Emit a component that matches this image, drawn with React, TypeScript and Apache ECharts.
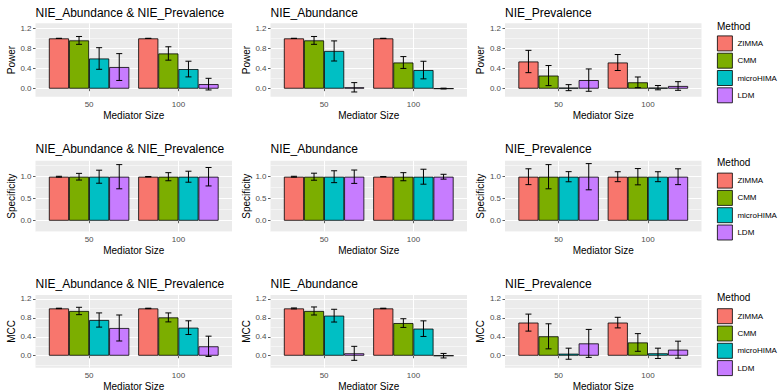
import React, { useEffect, useRef } from "react";
import * as echarts from "echarts";

const methods = ["ZIMMA", "CMM", "microHIMA", "LDM"];
const methodColors = ["#F8766D", "#7CAE00", "#00BFC4", "#C77CFF"];
const sizeLabels = ["50", "100"];
const sizePositions = [1, 2];
const panelTitles = ["NIE_Abundance & NIE_Prevalence", "NIE_Abundance", "NIE_Prevalence"];
const metricNames = ["Power", "Specificity", "MCC"];
const metricTicks = [[0, 0.4, 0.8, 1.2], [0, 0.5, 1.0], [0, 0.4, 0.8, 1.2]];
const metricMinorTicks = [[-0.2, 0.2, 0.6, 1.0], [-0.25, 0.25, 0.75, 1.25], [-0.2, 0.2, 0.6, 1.0]];
const metricMin = [-0.16, -0.25, -0.254];
const metricMax = [1.3, 1.364, 1.284];

// values: rows = methods (ZIMMA, CMM, microHIMA, LDM), columns = mediator size (50, 100)
const powerBothMean = [[1.0, 1.0], [0.96, 0.7], [0.6, 0.39], [0.43, 0.09]];
const powerBothSd = [[0.0, 0.0], [0.078, 0.133], [0.215, 0.156], [0.267, 0.116]];
const powerAbunMean = [[1.0, 1.0], [0.96, 0.52], [0.75, 0.37], [0.027, 0.002]];
const powerAbunSd = [[0.0, 0.0], [0.078, 0.118], [0.2, 0.175], [0.093, 0.008]];
const powerPrevMean = [[0.54, 0.52], [0.26, 0.126], [0.02, 0.02], [0.17, 0.053]];
const powerPrevSd = [[0.222, 0.159], [0.2, 0.106], [0.06, 0.043], [0.222, 0.086]];

const specBothMean = [[1.0, 1.0], [1.0, 1.0], [1.0, 1.0], [1.0, 1.0]];
const specBothSd = [[0.01, 0.005], [0.076, 0.092], [0.148, 0.125], [0.275, 0.21]];
const specAbunMean = [[1.0, 1.0], [1.0, 1.0], [1.0, 1.0], [1.0, 1.0]];
const specAbunSd = [[0.01, 0.005], [0.08, 0.092], [0.135, 0.17], [0.152, 0.055]];
const specPrevMean = [[1.0, 1.0], [1.0, 1.0], [1.0, 1.0], [1.0, 1.0]];
const specPrevSd = [[0.18, 0.113], [0.275, 0.185], [0.115, 0.113], [0.298, 0.18]];

const mccBothMean = [[1.0, 1.0], [0.946, 0.81], [0.755, 0.593], [0.586, 0.198]];
const mccBothSd = [[0.005, 0.005], [0.078, 0.095], [0.15, 0.145], [0.275, 0.215]];
const mccAbunMean = [[1.0, 1.0], [0.946, 0.69], [0.847, 0.572], [0.05, 0.0]];
const mccAbunSd = [[0.01, 0.005], [0.085, 0.092], [0.135, 0.165], [0.148, 0.048]];
const mccPrevMean = [[0.7, 0.7], [0.41, 0.28], [0.042, 0.05], [0.26, 0.127]];
const mccPrevSd = [[0.18, 0.112], [0.265, 0.187], [0.117, 0.109], [0.296, 0.18]];

const panelMeans = [
  [powerBothMean, powerAbunMean, powerPrevMean],
  [specBothMean, specAbunMean, specPrevMean],
  [mccBothMean, mccAbunMean, mccPrevMean],
];
const panelSds = [
  [powerBothSd, powerAbunSd, powerPrevSd],
  [specBothSd, specAbunSd, specPrevSd],
  [mccBothSd, mccAbunSd, mccPrevSd],
];

// layout
const colLefts = [35.5, 270.5, 505];
const panelWidth = 196.5;
const rowTops = [23.3, 160.7, 295];
const rowHeights = [73.4, 71, 72.7];
const titleTops = [7.3, 143, 278];
const legendTitleTops = [21, 157, 292];
const legendTops = [35.5, 172.7, 308.3];

const FONT = "'Liberation Sans', Arial, Helvetica, sans-serif";

function buildOption() {
  const grids: any[] = [];
  const xAxes: any[] = [];
  const yAxes: any[] = [];
  const series: any[] = [];
  const titles: any[] = [];
  const legends: any[] = [];

  for (let r = 0; r < 3; r++) {
    for (let c = 0; c < 3; c++) {
      const p = r * 3 + c;
      grids.push({
        left: colLefts[c],
        top: rowTops[r],
        width: panelWidth,
        height: rowHeights[r],
        show: true,
        backgroundColor: "#EBEBEB",
        borderWidth: 0,
        containLabel: false,
        outerBoundsMode: "none",
      });
      titles.push({
        text: panelTitles[c],
        left: colLefts[c],
        top: titleTops[r],
        padding: 0,
        textStyle: { fontSize: 12, fontWeight: "normal", color: "#000", fontFamily: FONT, lineHeight: 12 },
      });
      xAxes.push({
        type: "value",
        gridIndex: p,
        min: 0.4,
        max: 2.6,
        name: "Mediator Size",
        nameLocation: "middle",
        nameGap: 14,
        nameTextStyle: { fontSize: 10, color: "#000", fontFamily: FONT },
        axisLine: { show: false },
        axisTick: { show: true, length: 2.5, customValues: sizePositions, lineStyle: { color: "#333", width: 0.8 } },
        axisLabel: {
          customValues: sizePositions,
          formatter: (v: number) => sizeLabels[Math.round(v) - 1] ?? "",
          fontSize: 8,
          color: "#4D4D4D",
          margin: 3.5,
          fontFamily: FONT,
        },
        splitLine: { show: true, lineStyle: { color: "#FFFFFF", width: 1 } },
      });
      yAxes[p] = {
        type: "value",
        gridIndex: p,
        min: metricMin[r],
        max: metricMax[r],
        name: metricNames[r],
        nameLocation: "middle",
        nameGap: 18,
        nameRotate: 90,
        nameTextStyle: { fontSize: 10, color: "#000", fontFamily: FONT },
        axisLine: { show: false },
        axisTick: { show: true, length: 2.5, customValues: metricTicks[r], lineStyle: { color: "#333", width: 0.8 } },
        axisLabel: {
          customValues: metricTicks[r],
          formatter: (v: number) => v.toFixed(1),
          fontSize: 8,
          color: "#4D4D4D",
          margin: 4,
          fontFamily: FONT,
        },
        splitLine: { show: true, lineStyle: { color: "#FFFFFF", width: 1 } },
      };
      yAxes[9 + p] = {
        type: "value",
        gridIndex: p,
        position: "left",
        min: metricMin[r],
        max: metricMax[r],
        axisLine: { show: false },
        axisTick: { show: false, customValues: metricMinorTicks[r] },
        axisLabel: { show: false, customValues: metricMinorTicks[r] },
        splitLine: { show: true, lineStyle: { color: "#FFFFFF", width: 0.5 } },
      };

      const means = panelMeans[r][c];
      const sds = panelSds[r][c];
      methods.forEach((m, k) => {
        series.push({
          type: "bar",
          name: m,
          xAxisIndex: p,
          yAxisIndex: p,
          barGap: "0%",
          barCategoryGap: "10%",
          z: 2,
          itemStyle: { color: methodColors[k], borderColor: "#000", borderWidth: 0.8 },
          data: sizePositions.map((x, j) => [x, means[k][j]]),
        });
      });
      const errData: number[][] = [];
      methods.forEach((m, k) => {
        sizePositions.forEach((x, j) => {
          errData.push([x, means[k][j] - sds[k][j], means[k][j] + sds[k][j], k]);
        });
      });
      series.push({
        type: "custom",
        name: "errorbar",
        xAxisIndex: p,
        yAxisIndex: p,
        z: 3,
        clip: false,
        encode: { x: 0, y: [1, 2] },
        data: errData,
        renderItem: (params: any, api: any) => {
          const x = api.value(0);
          const lo = api.value(1);
          const hi = api.value(2);
          const k = api.value(3);
          const band = api.size([1, 0])[0];
          const bw = (band * 0.9) / 4;
          const cx = api.coord([x, 0])[0] + (k - 1.5) * bw;
          const yLo = api.coord([x, lo])[1];
          const yHi = api.coord([x, hi])[1];
          const half = bw * 0.15;
          const style = { stroke: "#000", lineWidth: 1 };
          return {
            type: "group",
            children: [
              { type: "line", shape: { x1: cx, y1: yLo, x2: cx, y2: yHi }, style },
              { type: "line", shape: { x1: cx - half, y1: yHi, x2: cx + half, y2: yHi }, style },
              { type: "line", shape: { x1: cx - half, y1: yLo, x2: cx + half, y2: yLo }, style },
            ],
          };
        },
      });
    }
    titles.push({
      text: "Method",
      left: 717,
      top: legendTitleTops[r],
      padding: 0,
      textStyle: { fontSize: 10, fontWeight: "normal", color: "#000", fontFamily: FONT, lineHeight: 10 },
    });
    legends.push({
      data: methods,
      orient: "vertical",
      left: 717,
      top: legendTops[r],
      padding: 0,
      itemWidth: 15,
      itemHeight: 15,
      itemGap: 1.5,
      icon: "rect",
      selectedMode: false,
      itemStyle: { borderColor: "#000", borderWidth: 0.8 },
      textStyle: { fontSize: 8, color: "#000", fontFamily: FONT },
    });
  }

  return {
    animation: false,
    backgroundColor: "#FFFFFF",
    textStyle: { fontFamily: FONT },
    title: titles,
    legend: legends,
    grid: grids,
    xAxis: xAxes,
    yAxis: yAxes,
    series,
  };
}

export default function App() {
  const ref = useRef<HTMLDivElement>(null);
  useEffect(() => {
    if (!ref.current) return;
    const chart = echarts.init(ref.current, undefined, { renderer: "svg" });
    chart.setOption(buildOption() as any);
    return () => chart.dispose();
  }, []);
  return (
    <div
      ref={ref}
      style={{ position: "fixed", left: 0, top: 0, width: 779, height: 392, background: "#fff" }}
    />
  );
}
